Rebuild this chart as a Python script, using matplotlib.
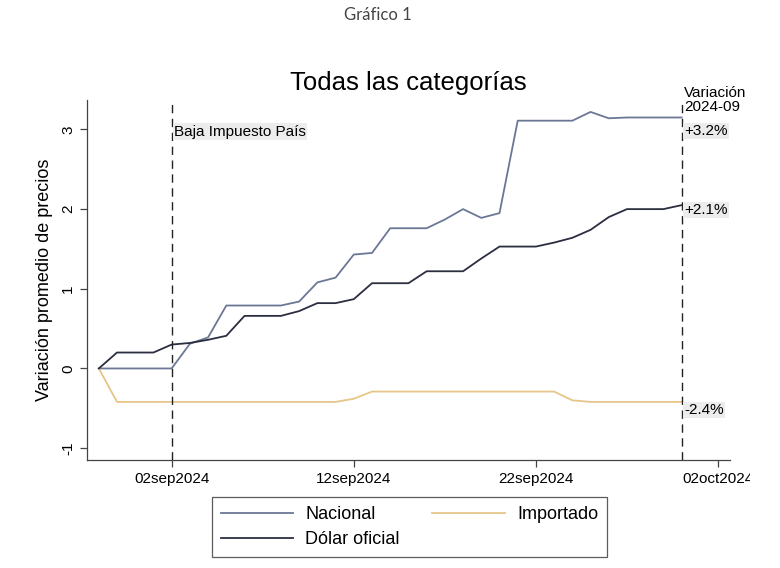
import numpy as np
import pandas as pd
import matplotlib
matplotlib.use("Agg")
import matplotlib.pyplot as plt
import matplotlib.dates as mdates
from matplotlib.ticker import FuncFormatter
from matplotlib.transforms import Bbox

# daily series, 29 Aug to 30 Sep 2024
dates = pd.date_range("2024-08-29", "2024-09-30", freq="D")

nacional = [0.00, 0.00, 0.00, 0.00, 0.00, 0.31, 0.39, 0.79, 0.79, 0.79,
            0.79, 0.84, 1.08, 1.14, 1.43, 1.45, 1.76, 1.76, 1.76, 1.87,
            2.00, 1.89, 1.95, 3.11, 3.11, 3.11, 3.11, 3.22, 3.14, 3.15,
            3.15, 3.15, 3.15]
importado = [0.00, -0.42, -0.42, -0.42, -0.42, -0.42, -0.42, -0.42, -0.42, -0.42,
             -0.42, -0.42, -0.42, -0.42, -0.38, -0.29, -0.29, -0.29, -0.29, -0.29,
             -0.29, -0.29, -0.29, -0.29, -0.29, -0.29, -0.40, -0.42, -0.42, -0.42,
             -0.42, -0.42, -0.42]
dolar = [0.00, 0.20, 0.20, 0.20, 0.30, 0.32, 0.36, 0.41, 0.66, 0.66,
         0.66, 0.72, 0.82, 0.82, 0.87, 1.07, 1.07, 1.07, 1.22, 1.22,
         1.22, 1.38, 1.53, 1.53, 1.53, 1.58, 1.64, 1.74, 1.90, 2.00,
         2.00, 2.00, 2.05]

# monthly change labels (Nacional, Dólar oficial, Importado) and where they sit
monthly_labels = ["+3.2%", "+2.1%", "-2.4%"]
monthly_label_y = [2.98, 1.99, -0.52]
event_date = pd.Timestamp("2024-09-02")
event_label = "Baja Impuesto País"
xtick_dates = pd.to_datetime(["2024-09-02", "2024-09-12", "2024-09-22", "2024-10-02"])
yticks = [-1, 0, 1, 2, 3]

c_nac = "#6b7795"
c_imp = "#e6c688"
c_dol = "#2b2e40"

plt.rcParams["font.family"] = ["Liberation Sans", "DejaVu Sans"]

fig = plt.figure(figsize=(7.8, 5.68), dpi=100)
ax = fig.add_axes([0.1115, 0.19, 0.8245, 0.634])

l_nac, = ax.plot(dates, nacional, color=c_nac, lw=1.3, label="Nacional")
l_imp, = ax.plot(dates, importado, color=c_imp, lw=1.3, label="Importado")
l_dol, = ax.plot(dates, dolar, color=c_dol, lw=1.3, label="Dólar oficial")

last_date = dates[-1]
for d in (event_date, last_date):
    ax.axvline(d, color="#222222", lw=1.0, ls=(0, (6, 4)))

box = dict(facecolor="#ececec", edgecolor="none", pad=1.0)
ax.text(event_date + pd.Timedelta(hours=3), 2.97, event_label, fontsize=11,
        va="center", ha="left", bbox=box)

for lab, y in zip(monthly_labels, monthly_label_y):
    ax.text(last_date + pd.Timedelta(hours=3), y, lab, fontsize=11,
            va="center", ha="left", bbox=box, clip_on=False)
ax.text(last_date + pd.Timedelta(hours=3), 3.19, "Variación\n2024-09", fontsize=11,
        va="bottom", ha="left", linespacing=1.0, clip_on=False)

ax.set_xlim(mdates.date2num(pd.Timestamp("2024-08-28")) + 0.35,
            mdates.date2num(pd.Timestamp("2024-10-02")) + 0.66)
ax.set_ylim(-1.15, 3.37)
ax.set_xticks(xtick_dates)
ax.xaxis.set_major_formatter(FuncFormatter(lambda x, p: mdates.num2date(x).strftime("%d%b%Y").lower()))
ax.set_yticks(yticks)
ax.set_yticklabels([str(t) for t in yticks], rotation=90, va="center")

ax.tick_params(axis="both", direction="out", length=5, width=0.9, color="#444444", labelsize=11)
for s in ("top", "right"):
    ax.spines[s].set_visible(False)
for s in ("left", "bottom"):
    ax.spines[s].set_color("#444444")
    ax.spines[s].set_linewidth(0.9)

ax.set_ylabel("Variación promedio de precios", fontsize=13, labelpad=6)
ax.set_title("Todas las categorías", fontsize=18.5, pad=7)

fig.text(0.485, 0.973, "Gráfico 1", fontsize=12, color="#444444", family=["Lato", "DejaVu Sans"],
         ha="center", va="center")

# row 1: Nacional, Importado; row 2: Dólar oficial
leg = fig.legend([l_nac, l_dol, l_imp], ["Nacional", "Dólar oficial", "Importado"],
                 loc="center", bbox_to_anchor=(0.525, 0.072), ncol=2,
                 frameon=True, fancybox=False, fontsize=13, handlelength=4.0,
                 columnspacing=1.8, handletextpad=0.7, borderpad=0.5, labelspacing=0.45)
leg.get_frame().set_edgecolor("#333333")
leg.get_frame().set_linewidth(0.9)

# the reference picture cuts the last date label at its right edge
fig.canvas.draw()
last_lbl = ax.get_xticklabels()[-1]
last_lbl.set_clip_box(Bbox.from_extents(0, 0, 750, 568))
last_lbl.set_clip_on(True)

fig.savefig("out.png", dpi=100, facecolor="white")
